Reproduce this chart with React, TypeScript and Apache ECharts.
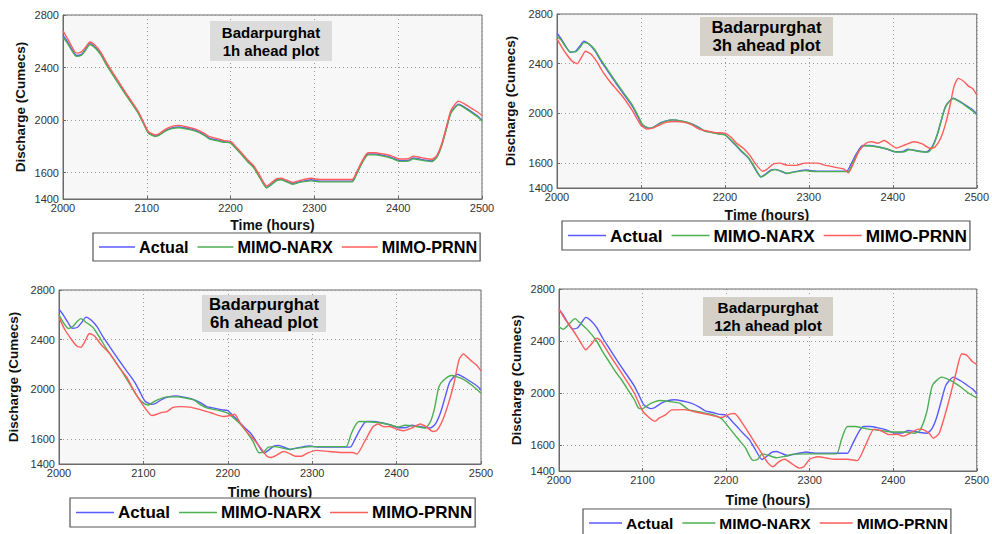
import React, { useEffect, useRef } from "react";
import * as echarts from "echarts";

const panelTitles = ["Badarpurghat\n1h ahead plot", "Badarpurghat\n3h ahead plot", "Badarpurghat\n6h ahead plot", "Badarpurghat\n12h ahead plot"];
const seriesNames = ["Actual", "MIMO-NARX", "MIMO-PRNN"];
const yTicks = [1400, 1600, 2000, 2400, 2800];
const xTicks = [2000, 2100, 2200, 2300, 2400, 2500];

const actual = [[2000,2645],[2005,2600],[2010,2545],[2016,2492],[2022,2500],[2027,2540],[2032,2582],[2038,2558],[2045,2505],[2052,2425],[2060,2345],[2070,2245],[2080,2150],[2090,2055],[2097,1965],[2102,1905],[2110,1880],[2115,1890],[2122,1920],[2130,1940],[2138,1948],[2148,1938],[2158,1922],[2168,1892],[2175,1862],[2185,1848],[2192,1836],[2200,1830],[2206,1790],[2213,1742],[2220,1692],[2228,1640],[2235,1565],[2243,1488],[2248,1510],[2255,1545],[2260,1550],[2266,1537],[2274,1517],[2282,1530],[2290,1540],[2296,1546],[2302,1540],[2310,1536],[2345,1536],[2350,1590],[2357,1680],[2364,1742],[2372,1742],[2382,1732],[2392,1716],[2402,1692],[2412,1694],[2418,1712],[2424,1706],[2432,1696],[2440,1690],[2446,1722],[2452,1812],[2458,1950],[2463,2060],[2472,2122],[2480,2096],[2488,2062],[2495,2030],[2500,1998]];

const narx1 = [[2000,2630],[2005,2588],[2010,2535],[2016,2485],[2022,2494],[2027,2532],[2032,2575],[2038,2550],[2045,2498],[2052,2418],[2060,2338],[2070,2240],[2080,2145],[2090,2050],[2097,1962],[2102,1900],[2110,1876],[2115,1886],[2122,1916],[2130,1936],[2138,1942],[2148,1932],[2158,1916],[2168,1886],[2175,1856],[2185,1842],[2192,1832],[2200,1826],[2206,1786],[2213,1738],[2220,1686],[2228,1634],[2235,1560],[2243,1484],[2248,1506],[2255,1540],[2260,1546],[2266,1532],[2274,1512],[2282,1526],[2290,1534],[2296,1538],[2302,1534],[2310,1530],[2345,1530],[2350,1585],[2357,1675],[2364,1736],[2372,1736],[2382,1726],[2392,1710],[2402,1686],[2412,1688],[2418,1706],[2424,1700],[2432,1690],[2440,1684],[2446,1716],[2452,1806],[2458,1945],[2463,2055],[2472,2116],[2480,2090],[2488,2055],[2495,2024],[2500,1992]];
const prnn1 = [[2000,2680],[2005,2625],[2010,2565],[2016,2510],[2022,2520],[2027,2555],[2032,2595],[2038,2572],[2045,2518],[2052,2438],[2060,2356],[2070,2256],[2080,2160],[2090,2064],[2097,1972],[2102,1912],[2110,1888],[2115,1898],[2122,1930],[2130,1952],[2138,1960],[2148,1948],[2158,1932],[2168,1902],[2175,1874],[2185,1858],[2192,1844],[2200,1838],[2206,1800],[2213,1752],[2220,1700],[2228,1650],[2235,1575],[2243,1500],[2248,1520],[2255,1555],[2260,1558],[2266,1546],[2274,1526],[2282,1540],[2290,1552],[2296,1558],[2302,1552],[2310,1548],[2345,1548],[2350,1600],[2357,1690],[2364,1752],[2372,1752],[2382,1742],[2392,1728],[2402,1704],[2412,1706],[2418,1726],[2424,1720],[2432,1708],[2440,1702],[2446,1730],[2452,1822],[2458,1962],[2463,2075],[2472,2145],[2480,2120],[2488,2088],[2495,2060],[2500,2035]];

const narx2 = [[2000,2620],[2005,2590],[2010,2540],[2016,2495],[2022,2495],[2027,2528],[2032,2570],[2038,2560],[2045,2512],[2052,2435],[2060,2355],[2070,2255],[2080,2160],[2090,2065],[2097,1975],[2102,1910],[2110,1882],[2115,1888],[2122,1915],[2130,1938],[2138,1948],[2148,1940],[2158,1922],[2168,1888],[2175,1860],[2185,1845],[2192,1836],[2200,1828],[2206,1795],[2213,1748],[2220,1698],[2228,1645],[2235,1572],[2243,1490],[2248,1505],[2255,1540],[2260,1548],[2266,1538],[2274,1518],[2282,1528],[2290,1536],[2296,1540],[2302,1535],[2310,1532],[2347,1532],[2352,1600],[2359,1690],[2366,1740],[2374,1738],[2384,1728],[2394,1712],[2404,1690],[2414,1692],[2420,1710],[2426,1702],[2434,1692],[2442,1690],[2448,1740],[2454,1850],[2460,2000],[2465,2080],[2472,2120],[2480,2092],[2488,2055],[2495,2020],[2500,1990]];
const prnn2 = [[2000,2600],[2006,2530],[2012,2470],[2018,2420],[2024,2400],[2029,2450],[2034,2500],[2040,2480],[2047,2420],[2055,2330],[2062,2265],[2070,2200],[2080,2120],[2090,2020],[2100,1905],[2107,1875],[2113,1880],[2120,1900],[2130,1928],[2140,1935],[2150,1930],[2160,1910],[2170,1872],[2180,1858],[2190,1845],[2200,1842],[2207,1810],[2214,1760],[2222,1720],[2230,1660],[2237,1590],[2245,1535],[2250,1550],[2258,1595],[2265,1600],[2275,1582],[2285,1582],[2295,1600],[2310,1600],[2320,1582],[2335,1562],[2342,1552],[2347,1522],[2352,1580],[2360,1700],[2368,1760],[2375,1772],[2382,1760],[2390,1782],[2397,1752],[2404,1722],[2415,1748],[2425,1772],[2435,1755],[2444,1720],[2450,1728],[2457,1800],[2463,1920],[2468,2060],[2473,2220],[2478,2282],[2485,2255],[2490,2220],[2495,2200],[2500,2150]];

const narx3 = [[2000,2600],[2005,2540],[2011,2490],[2017,2510],[2022,2550],[2026,2570],[2031,2545],[2040,2500],[2048,2420],[2056,2330],[2065,2240],[2075,2140],[2085,2030],[2093,1940],[2100,1890],[2106,1875],[2112,1900],[2118,1920],[2128,1940],[2140,1940],[2150,1930],[2160,1915],[2168,1875],[2176,1850],[2190,1830],[2200,1810],[2207,1770],[2215,1720],[2222,1660],[2230,1580],[2237,1490],[2242,1495],[2248,1535],[2256,1540],[2264,1530],[2272,1518],[2285,1530],[2300,1540],[2340,1540],[2346,1640],[2352,1720],[2356,1742],[2366,1740],[2380,1732],[2395,1710],[2402,1698],[2410,1712],[2420,1705],[2434,1690],[2440,1740],[2445,1850],[2450,2020],[2455,2070],[2465,2112],[2478,2085],[2490,2030],[2500,1970]];
const prnn3 = [[2000,2580],[2007,2480],[2015,2400],[2021,2350],[2026,2340],[2031,2390],[2036,2450],[2042,2430],[2050,2360],[2060,2290],[2070,2190],[2080,2100],[2088,2000],[2095,1920],[2102,1850],[2110,1790],[2116,1800],[2122,1815],[2128,1822],[2135,1855],[2145,1862],[2155,1858],[2165,1842],[2180,1812],[2195,1782],[2203,1790],[2208,1800],[2215,1725],[2225,1640],[2233,1580],[2240,1520],[2246,1465],[2251,1452],[2258,1472],[2266,1500],[2272,1488],[2280,1462],[2287,1462],[2295,1490],[2305,1510],[2320,1500],[2335,1492],[2348,1492],[2353,1480],[2362,1580],[2372,1700],[2378,1722],[2385,1700],[2392,1702],[2400,1680],[2408,1668],[2418,1690],[2428,1722],[2435,1700],[2443,1662],[2448,1672],[2455,1760],[2462,1900],[2468,2050],[2474,2240],[2479,2285],[2488,2232],[2494,2200],[2500,2150]];

const narx4 = [[2000,2510],[2005,2490],[2012,2530],[2019,2572],[2025,2540],[2035,2480],[2045,2400],[2052,2320],[2060,2240],[2068,2160],[2075,2100],[2083,2020],[2090,1950],[2095,1885],[2100,1880],[2105,1900],[2110,1920],[2120,1942],[2135,1932],[2145,1920],[2155,1872],[2170,1852],[2185,1832],[2195,1800],[2205,1722],[2215,1642],[2223,1580],[2232,1482],[2238,1490],[2243,1532],[2250,1522],[2260,1502],[2270,1512],[2280,1530],[2300,1532],[2332,1532],[2338,1640],[2345,1742],[2355,1742],[2370,1722],[2385,1712],[2400,1700],[2415,1700],[2425,1690],[2432,1712],[2440,1850],[2447,2060],[2458,2122],[2470,2092],[2480,2050],[2490,2000],[2500,1962]];
const prnn4 = [[2000,2645],[2007,2570],[2015,2500],[2025,2400],[2032,2332],[2038,2370],[2045,2422],[2050,2402],[2060,2300],[2075,2152],[2090,2000],[2100,1862],[2108,1810],[2115,1782],[2120,1808],[2127,1830],[2135,1870],[2150,1872],[2165,1852],[2180,1832],[2195,1812],[2205,1840],[2210,1842],[2220,1762],[2230,1662],[2240,1562],[2250,1462],[2256,1432],[2263,1470],[2270,1490],[2280,1450],[2288,1422],[2293,1432],[2300,1490],[2310,1510],[2320,1500],[2330,1490],[2345,1490],[2357,1480],[2367,1600],[2377,1722],[2385,1710],[2395,1680],[2405,1682],[2412,1668],[2420,1690],[2430,1722],[2435,1720],[2443,1690],[2448,1652],[2455,1690],[2465,1900],[2475,2150],[2482,2302],[2488,2290],[2495,2240],[2500,2220]];

const narxSets = [narx1, narx2, narx3, narx4];
const prnnSets = [prnn1, prnn2, prnn3, prnn4];

const colors = ["#5a5aff", "#4caf50", "#ff5c5c"];
const FONT = "Liberation Sans, Arial, sans-serif";

// layout per panel
const grids = [
  { left: 63, top: 15, width: 419, height: 184 },
  { left: 557, top: 14, width: 422, height: 174 },
  { left: 59, top: 290, width: 422, height: 174 },
  { left: 559, top: 289, width: 420, height: 182 },
];
const xNameGap = [19, 20, 21, 22];
const yNameGap = [36, 40, 39, 36];
const legendPos = [
  { left: 93, top: 233 },
  { left: 562, top: 221 },
  { left: 70, top: 498 },
  { left: 583, top: 509 },
];
const legendFont = [16.2, 17.2, 17, 15.5];
const legendLine = [36, 38, 38, 33];
const titleFont = [15, 16.8, 16.8, 15.4];
const titleBoxes = [
  { x: 210, y: 21, w: 122, h: 40, fill: "#dcdcdc" },
  { x: 700, y: 17, w: 133, h: 39, fill: "#d6d2ca" },
  { x: 202, y: 295, w: 124, h: 37, fill: "#d9d9d9" },
  { x: 703, y: 297, w: 130, h: 39, fill: "#d4d0c8" },
];

export default function App() {
  const ref = useRef<HTMLDivElement>(null);
  useEffect(() => {
    if (!ref.current) return;
    const chart = echarts.init(ref.current, null, { renderer: "svg" });
    const series: any[] = [];
    for (let p = 0; p < 4; p++) {
      const sets = [actual, narxSets[p], prnnSets[p]];
      sets.forEach((d, i) => {
        series.push({
          type: "line",
          name: seriesNames[i],
          xAxisIndex: p,
          yAxisIndex: p,
          data: d,
          showSymbol: false,
          symbol: "none",
          smooth: 0.2,
          lineStyle: { color: colors[i], width: 1.4 },
          itemStyle: { color: colors[i] },
          z: 2 + i,
        });
      });
    }
    const option: any = {
      animation: false,
      backgroundColor: "#ffffff",
      grid: grids.map((g) => ({
        ...g,
        show: true,
        backgroundColor: "#f7f7f7",
        borderColor: "#6a6a6a",
        borderWidth: 1,
        containLabel: false,
      })),
      xAxis: grids.map((_, p) => ({
        type: "value",
        gridIndex: p,
        min: 2000,
        max: 2500,
        interval: 100,
        name: "Time (hours)",
        nameLocation: "middle",
        nameGap: xNameGap[p],
        nameTextStyle: { fontFamily: FONT, fontWeight: "bold", fontSize: 14, color: "#111", verticalAlign: "top" },
        axisLine: { show: true, lineStyle: { color: "#6a6a6a" } },
        axisTick: { show: true, inside: true, length: 3, lineStyle: { color: "#6a6a6a" } },
        axisLabel: { fontFamily: FONT, fontSize: 11, color: "#333", margin: 3, formatter: (v: number) => (xTicks.includes(v) ? String(v) : "") },
        splitLine: { show: true, lineStyle: { color: "#9a9a9a", type: [1, 3], width: 1 } },
      })),
      yAxis: grids.map((_, p) => ({
        type: "value",
        gridIndex: p,
        min: 1400,
        max: 2800,
        name: "Discharge (Cumecs)",
        nameLocation: "middle",
        nameGap: yNameGap[p],
        nameTextStyle: { fontFamily: FONT, fontWeight: "bold", fontSize: 13.5, color: "#111", verticalAlign: "bottom" },
        axisLine: { show: true, lineStyle: { color: "#6a6a6a" } },
        axisTick: { show: true, inside: true, length: 3, customValues: yTicks, lineStyle: { color: "#6a6a6a" } },
        axisLabel: { fontFamily: FONT, fontSize: 11, color: "#333", margin: 4, customValues: yTicks, formatter: (v: number) => String(v) },
        splitLine: { show: true, lineStyle: { color: "#9a9a9a", type: [1, 3], width: 1 } },
      })),
      legend: legendPos.map((l, p) => ({
        ...l,
        orient: "horizontal",
        data: seriesNames.map((n) => ({ name: n, icon: "rect" })),
        itemWidth: legendLine[p],
        itemHeight: 1.5,
        itemGap: 9,
        padding: [6, 3, 6, 6],
        borderColor: "#555",
        borderWidth: 1.2,
        backgroundColor: "#ffffff",
        selectedMode: false,
        textStyle: { fontFamily: FONT, fontWeight: "bold", fontSize: legendFont[p], color: "#000", padding: [0, 0, 0, -1] },
      })),
      graphic: titleBoxes.flatMap((b, p) => [
        { type: "rect", shape: { x: b.x, y: b.y, width: b.w, height: b.h }, style: { fill: b.fill }, z: 10 },
        {
          type: "text",
          x: b.x + b.w / 2,
          y: b.y + b.h / 2,
          z: 11,
          style: { text: panelTitles[p], textAlign: "center", textVerticalAlign: "middle", font: "bold " + titleFont[p] + "px " + FONT, fill: "#000", lineHeight: 18 },
        },
      ]),
      series,
    };
    chart.setOption(option);
    return () => chart.dispose();
  }, []);
  return <div ref={ref} style={{ position: "fixed", left: 0, top: 0, width: 992, height: 534 }} />;
}
